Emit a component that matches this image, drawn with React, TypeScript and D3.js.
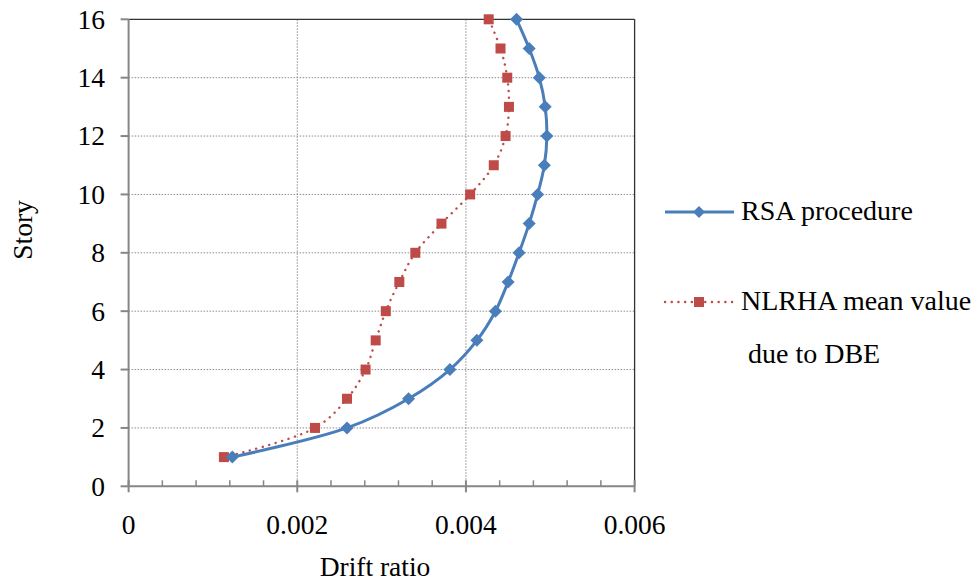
import React from "react";
import * as d3 from "d3";

const stories = [1, 2, 3, 4, 5, 6, 7, 8, 9, 10, 11, 12, 13, 14, 15, 16];
const rsaDrift = [0.00123, 0.00259, 0.00332, 0.00381, 0.00413, 0.00435, 0.0045, 0.00463, 0.00475, 0.00485, 0.00493, 0.00496, 0.00494, 0.00487, 0.00475, 0.0046];
const nlrhaDrift = [0.00113, 0.00221, 0.00259, 0.00281, 0.00293, 0.00305, 0.00321, 0.0034, 0.00371, 0.00405, 0.00433, 0.00447, 0.00451, 0.00449, 0.00441, 0.00427];
const xTicks = [0, 0.002, 0.004, 0.006];
const xTickLabels = ["0", "0.002", "0.004", "0.006"];
const yTicks = [0, 2, 4, 6, 8, 10, 12, 14, 16];
const seriesNames = ["RSA procedure", "NLRHA mean value", "due to DBE"];

const W = 979, H = 582;
const left = 128.6, right = 634.6, top = 19.3, bottom = 486.3;
const BLUE = "#4a7ebb";
const RED = "#be4b48";
const TS: React.CSSProperties = { fontFamily: "Liberation Serif", fontSize: "27.5px" };
const LS: React.CSSProperties = { fontFamily: "Liberation Serif", fontSize: "28px" };

export default function App() {
  const x = d3.scaleLinear().domain([0, 0.006]).range([left, right]);
  const y = d3.scaleLinear().domain([0, 16]).range([bottom, top]);
  const line = d3.line<[number, number]>()
    .x(d => x(d[0]))
    .y(d => y(d[1]))
    .curve(d3.curveCatmullRom.alpha(0.5));
  const rsaPts: [number, number][] = stories.map((s, i) => [rsaDrift[i], s]);
  const nlPts: [number, number][] = stories.map((s, i) => [nlrhaDrift[i], s]);
  const minorTicks = d3.range(0, 15).map(i => i * 0.0004).filter(v => !xTicks.some(t => Math.abs(t - v) < 1e-9));
  const diamond = (cx: number, cy: number, r: number) => `M${cx},${cy - r}L${cx + r},${cy}L${cx},${cy + r}L${cx - r},${cy}Z`;

  return (
    <svg width={W} height={H} style={{ position: "absolute", left: 0, top: 0, background: "#fff" }}>
      <rect x={0} y={0} width={W} height={H} fill="#fff" />
      {/* grid */}
      {yTicks.filter(t => t > 0 && t < 16).map(t => (
        <line key={"gy" + t} x1={left} x2={right} y1={y(t)} y2={y(t)} stroke="#8c8c8c" strokeWidth={1} strokeDasharray="1.5,1.5" />
      ))}
      {xTicks.filter(t => t > 0 && t < 0.006).map(t => (
        <line key={"gx" + t} x1={x(t)} x2={x(t)} y1={top} y2={bottom} stroke="#8c8c8c" strokeWidth={1} strokeDasharray="1.5,1.5" />
      ))}
      {/* top and right border */}
      <line x1={left} x2={right} y1={top} y2={top} stroke="#333" strokeWidth={1.3} />
      <line x1={right} x2={right} y1={top} y2={bottom} stroke="#333" strokeWidth={1.3} />
      {/* axes */}
      <line x1={left} x2={left} y1={top} y2={bottom} stroke="#868686" strokeWidth={2} />
      <line x1={left} x2={right} y1={bottom} y2={bottom} stroke="#868686" strokeWidth={2} />
      {yTicks.map(t => (
        <g key={"yt" + t}>
          <line x1={left - 8} x2={left} y1={y(t)} y2={y(t)} stroke="#868686" strokeWidth={2} />
          <text x={105} y={y(t)} dy="0.34em" textAnchor="end" style={TS} fill="#000">{t}</text>
        </g>
      ))}
      {xTicks.map((t, i) => (
        <g key={"xt" + t}>
          <line x1={x(t)} x2={x(t)} y1={bottom - 6} y2={bottom + 6} stroke="#868686" strokeWidth={2} />
          <text x={x(t)} y={534} textAnchor="middle" style={TS} fill="#000">{xTickLabels[i]}</text>
        </g>
      ))}
      {minorTicks.map(t => (
        <line key={"mt" + t} x1={x(t)} x2={x(t)} y1={bottom - 6} y2={bottom} stroke="#868686" strokeWidth={1.5} />
      ))}
      <text x={375} y={576} textAnchor="middle" style={TS} fill="#000">Drift ratio</text>
      <text transform={`translate(32,230) rotate(-90)`} textAnchor="middle" style={TS} fill="#000">Story</text>

      {/* series */}
      <path d={line(nlPts) || ""} fill="none" stroke={RED} strokeWidth={2.4} strokeDasharray="0.1,6.6" strokeLinecap="round" />
      {nlPts.map((p, i) => (
        <rect key={"nm" + i} x={x(p[0]) - 5} y={y(p[1]) - 5} width={10} height={10} fill={RED} />
      ))}
      <path d={line(rsaPts) || ""} fill="none" stroke={BLUE} strokeWidth={3} />
      {rsaPts.map((p, i) => (
        <path key={"rm" + i} d={diamond(x(p[0]), y(p[1]), 6.5)} fill={BLUE} />
      ))}

      {/* legend */}
      <line x1={665} x2={734} y1={212} y2={212} stroke={BLUE} strokeWidth={3} />
      <path d={diamond(699, 212, 6)} fill={BLUE} />
      <text x={741} y={220} style={LS} fill="#000">{seriesNames[0]}</text>
      <line x1={665} x2={734} y1={302} y2={302} stroke={RED} strokeWidth={2.4} strokeDasharray="0.1,6.6" strokeLinecap="round" />
      <rect x={694} y={297} width={10} height={10} fill={RED} />
      <text x={741} y={310} style={LS} fill="#000">{seriesNames[1]}</text>
      <text x={748} y={363} style={LS} fill="#000">{seriesNames[2]}</text>
    </svg>
  );
}
